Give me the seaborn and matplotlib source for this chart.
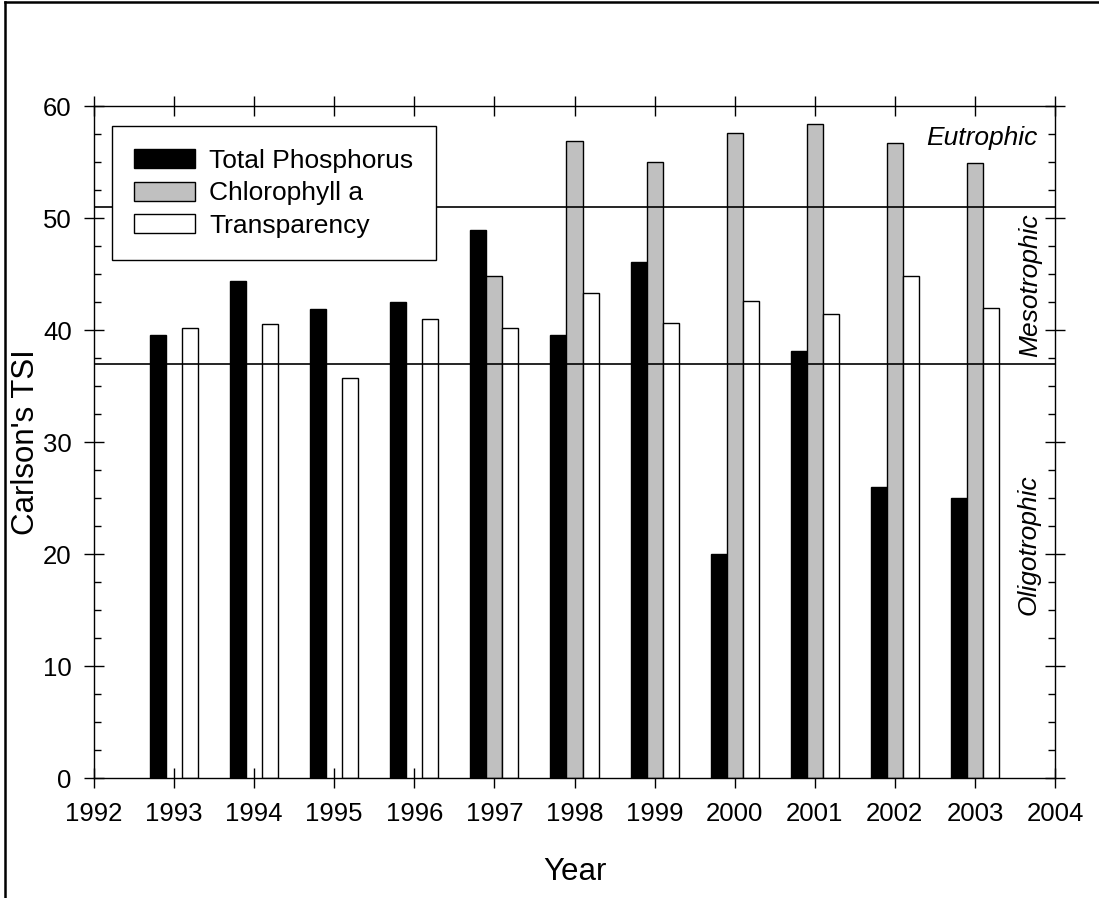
import numpy as np
import pandas as pd
import seaborn as sns
import matplotlib.pyplot as plt
from matplotlib.patches import Patch
from matplotlib.lines import Line2D
from matplotlib.ticker import MultipleLocator

plt.rcParams['font.family'] = ['Liberation Sans', 'DejaVu Sans']

# Carlson's trophic state index per year
years = [1993, 1994, 1995, 1996, 1997, 1998, 1999, 2000, 2001, 2002, 2003]
total_phosphorus = [39.6, 44.4, 41.9, 42.5, 48.9, 39.6, 46.1, 20.0, 38.1, 26.0, 25.0]
chlorophyll_a = [np.nan, np.nan, np.nan, np.nan, 44.8, 56.9, 55.0, 57.6, 58.4, 56.7, 54.9]
transparency = [40.2, 40.5, 35.7, 41.0, 40.2, 43.3, 40.6, 42.6, 41.4, 44.8, 42.0]

series_names = ['Total Phosphorus', 'Chlorophyll a', 'Transparency']
series_colors = ['black', '#c0c0c0', 'white']

# trophic class boundaries
eutrophic_limit = 51
oligotrophic_limit = 37

# long format for seaborn
df = pd.DataFrame({'Year': years,
                   'Total Phosphorus': total_phosphorus,
                   'Chlorophyll a': chlorophyll_a,
                   'Transparency': transparency})
long_df = df.melt(id_vars='Year', var_name='Parameter', value_name='TSI')

fig = plt.figure(figsize=(10.99, 8.98), dpi=100)
ax = fig.add_axes([0.0855, 0.1336, 0.8745, 0.7483])
ax.set_axisbelow(True)

sns.barplot(data=long_df, x='Year', y='TSI', hue='Parameter',
            hue_order=series_names, palette=dict(zip(series_names, series_colors)),
            native_scale=True, width=0.6, saturation=1, errorbar=None,
            edgecolor='black', linewidth=1, legend=False, ax=ax)

ax.axhline(eutrophic_limit, color='black', lw=1.2)
ax.axhline(oligotrophic_limit, color='black', lw=1.2)

ax.set_xlim(1992, 2004)
ax.set_ylim(0, 60)
ax.set_xticks(range(1992, 2005))
ax.set_xticklabels([str(y) for y in range(1992, 2005)])
ax.set_yticks(range(0, 61, 10))
ax.yaxis.set_minor_locator(MultipleLocator(2.5))

ax.tick_params(axis='both', which='major', direction='inout', length=14, width=1,
               top=True, right=True, labelsize=18.5)
ax.tick_params(axis='x', which='major', pad=10)
ax.tick_params(axis='y', which='major', pad=9)
ax.tick_params(axis='y', which='minor', direction='in', length=5, width=1,
               left=True, right=True)
for s in ax.spines.values():
    s.set_linewidth(1)

ax.set_xlabel('Year', fontsize=22.5)
ax.set_ylabel("Carlson's TSI", fontsize=22.5)
ax.xaxis.set_label_coords(0.5, -0.118)
ax.yaxis.set_label_coords(-0.055, 0.5)

ax.text(2003.78, 56.5, 'Eutrophic', ha='right', va='baseline', style='italic', fontsize=19)
ax.text(2003.69, 44.0, 'Mesotrophic', ha='center', va='center', rotation=90,
        style='italic', fontsize=19)
ax.text(2003.67, 20.8, 'Oligotrophic', ha='center', va='center', rotation=90,
        style='italic', fontsize=19)

handles = [Patch(facecolor=c, edgecolor='black', linewidth=1) for c in series_colors]
leg = ax.legend(handles, series_names, loc='upper left', bbox_to_anchor=(0.0187, 0.970),
                fontsize=19, frameon=True, fancybox=False, edgecolor='black',
                framealpha=1, borderpad=0.85, handlelength=2.28, handleheight=0.72,
                handletextpad=0.55, labelspacing=0.33, borderaxespad=0)
leg.get_frame().set_linewidth(1)

# page border (left and top)
fig.add_artist(Line2D([0.0045, 0.0045], [0, 0.998], transform=fig.transFigure,
                      color='black', lw=1.8))
fig.add_artist(Line2D([0.0045, 1], [0.998, 0.998], transform=fig.transFigure,
                      color='black', lw=1.8))

fig.savefig('out.png', dpi=100)
